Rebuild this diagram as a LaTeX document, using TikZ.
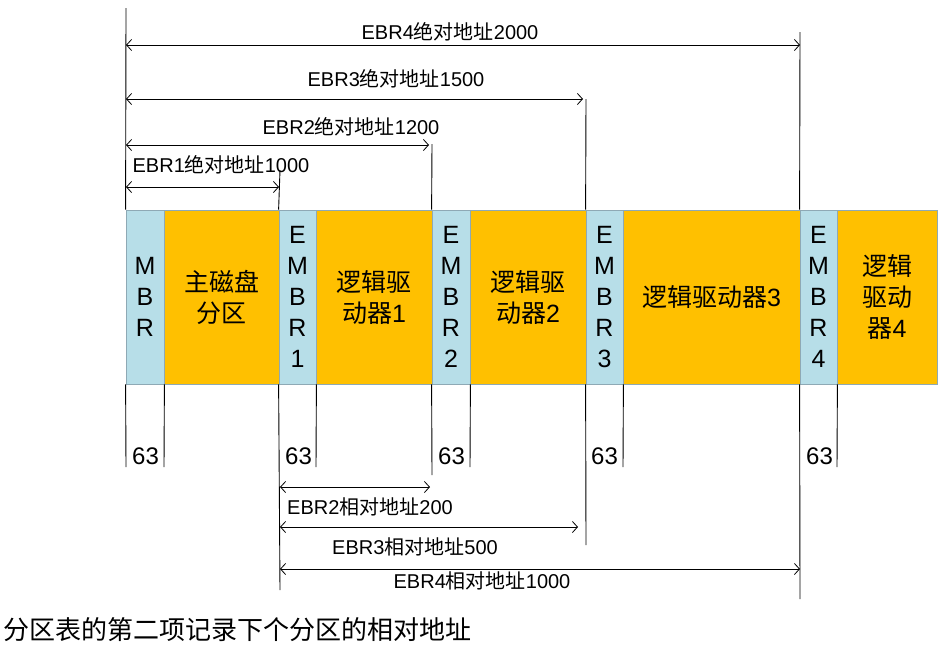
\documentclass[tikz,border=0pt]{standalone}
\usepackage{fontspec}
\setmainfont{Liberation Sans}
\newfontfamily\cjk{Noto Sans CJK SC}
\usetikzlibrary{arrows.meta}
\definecolor{embrc}{HTML}{B7DEE8}
\definecolor{partc}{HTML}{FFC000}
\definecolor{bordc}{HTML}{8EA9B5}
\begin{document}
\begin{tikzpicture}[x=1pt,y=-1pt,
  box/.style={draw=bordc, line width=0.8pt, minimum height=174pt, inner sep=0pt,
    align=center, font=\fontsize{25}{31}\selectfont},
  eb/.style={box, fill=embrc},
  pt/.style={box, fill=partc},
  ln/.style={line width=0.9pt, black},
  arr/.style={line width=0.8pt, {Straight Barb[length=5pt,width=11pt]}-{Straight Barb[length=5pt,width=11pt]}},
  lab/.style={inner sep=0pt, font=\fontsize{20}{24}\selectfont},
  num/.style={inner sep=0pt, anchor=west, font=\fontsize{24}{28}\selectfont}]
\useasboundingbox (0,0) rectangle (939,648);
% boxes
\node[eb, minimum width=38pt]  (mbr)  at (145,297)   {M\\B\\R};
\node[pt, minimum width=115pt] (p0)   at (221.5,297) {{\cjk 主磁盘}\\{\cjk 分区}};
\node[eb, minimum width=37pt]  (e1)   at (297.5,297) {E\\M\\B\\R\\1};
\node[pt, minimum width=116pt] (p1)   at (374,297)   {{\cjk 逻辑驱}\\{\cjk 动器}1};
\node[eb, minimum width=38pt]  (e2)   at (451,297)   {E\\M\\B\\R\\2};
\node[pt, minimum width=116pt] (p2)   at (528,297)   {{\cjk 逻辑驱}\\{\cjk 动器}2};
\node[eb, minimum width=37pt]  (e3)   at (604.5,297) {E\\M\\B\\R\\3};
\node[pt, minimum width=177pt] (p3)   at (711.5,297) {{\cjk 逻辑驱动器}3};
\node[eb, minimum width=37pt]  (e4)   at (818.5,297) {E\\M\\B\\R\\4};
\node[pt, minimum width=100pt] (p4)   at (887,297)   {{\cjk 逻辑}\\{\cjk 驱动}\\{\cjk 器}4};
% upper vertical lines
\coordinate (u0) at (126,8);
\coordinate (u1) at (280,170);
\coordinate (u2) at (432,144);
\coordinate (u3) at (586,99);
\coordinate (u4) at (800,32);
\draw[ln] (mbr.north west) -- (u0);
\draw[ln] (e1.north west) -- (u1);
\draw[ln] (e2.north west) -- (u2);
\draw[ln] (e3.north west) -- (u3);
\draw[ln] (e4.north west) -- (u4);
% lower vertical lines
\coordinate (d0) at (126,467);
\coordinate (d0b) at (164,467);
\coordinate (d1) at (280,590);
\coordinate (d1b) at (316,467);
\coordinate (d2) at (432,475);
\coordinate (d2b) at (470,467);
\coordinate (d3) at (586,545);
\coordinate (d3b) at (623,467);
\coordinate (d4) at (800,599);
\coordinate (d4b) at (837,467);
\draw[ln] (mbr.south west) -- (d0);
\draw[ln] (mbr.south east) -- (d0b);
\draw[ln] (e1.south west) -- (d1);
\draw[ln] (e1.south east) -- (d1b);
\draw[ln] (e2.south west) -- (d2);
\draw[ln] (e2.south east) -- (d2b);
\draw[ln] (e3.south west) -- (d3);
\draw[ln] (e3.south east) -- (d3b);
\draw[ln] (e4.south west) -- (d4);
\draw[ln] (e4.south east) -- (d4b);
% 63 labels
\node[num] (n0) at (132,456) {63};
\node[num] (n1) at (285,456) {63};
\node[num] (n2) at (438,456) {63};
\node[num] (n3) at (591,456) {63};
\node[num] (n4) at (806,456) {63};
% absolute arrows
\coordinate (a4l) at (126,45);  \coordinate (a4r) at (800,45);
\coordinate (a3l) at (126,99);  \coordinate (a3r) at (583,99);
\coordinate (a2l) at (126,145); \coordinate (a2r) at (429,145);
\coordinate (a1l) at (126,187); \coordinate (a1r) at (279,187);
\draw[arr] (a4l) -- (a4r);
\draw[arr] (a3l) -- (a3r);
\draw[arr] (a2l) -- (a2r);
\draw[arr] (a1l) -- (a1r);
\node[lab] (l4) at (450,32)  {EBR4{\cjk 绝对地址}2000};
\node[lab] (l3) at (396,79)  {EBR3{\cjk 绝对地址}1500};
\node[lab] (l2) at (351,127) {EBR2{\cjk 绝对地址}1200};
\node[lab] (l1) at (221,165) {EBR1{\cjk 绝对地址}1000};
% relative arrows
\coordinate (r2l) at (280,487); \coordinate (r2r) at (430,487);
\coordinate (r3l) at (280,527); \coordinate (r3r) at (578,527);
\coordinate (r4l) at (280,569); \coordinate (r4r) at (800,569);
\draw[arr] (r2l) -- (r2r);
\draw[arr] (r3l) -- (r3r);
\draw[arr] (r4l) -- (r4r);
\node[lab] (s2) at (370,507) {EBR2{\cjk 相对地址}200};
\node[lab] (s3) at (415,547) {EBR3{\cjk 相对地址}500};
\node[lab] (s4) at (482,581) {EBR4{\cjk 相对地址}1000};
% caption
\node[inner sep=0pt, anchor=west, font=\cjk\fontsize{26}{30}\selectfont] (cap) at (3,630)
  {分区表的第二项记录下个分区的相对地址};
\end{tikzpicture}
\end{document}
